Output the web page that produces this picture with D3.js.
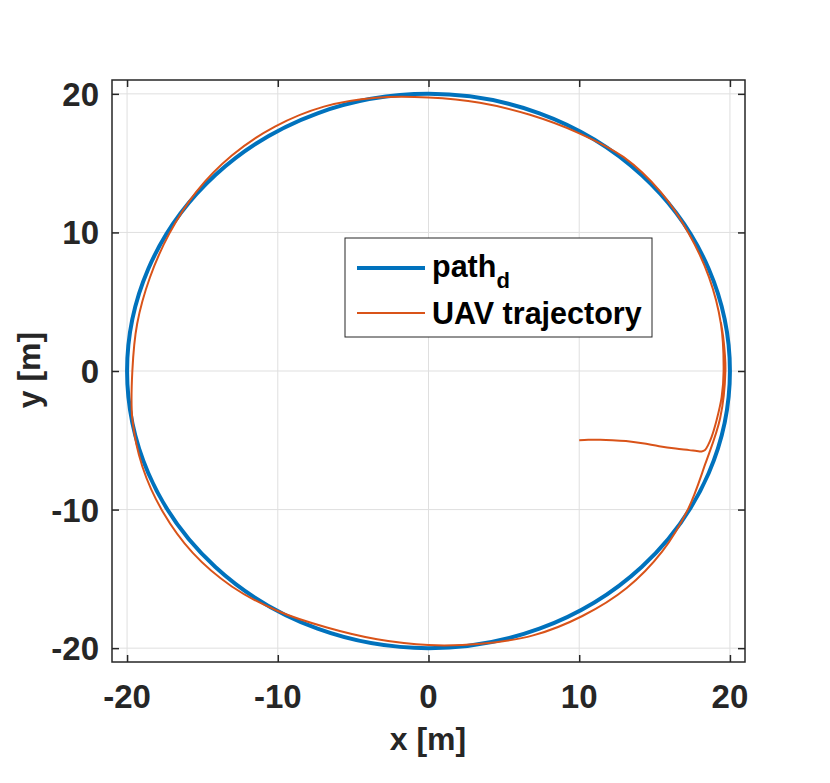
<!DOCTYPE html>
<html>
<head>
<meta charset="utf-8">
<script src="https://cdn.jsdelivr.net/npm/d3@7/dist/d3.min.js"></script>
<style>
  html, body { margin: 0; padding: 0; background: #fff; }
  svg { display: block; }
  text { font-family: "Liberation Sans", Arial, sans-serif; font-weight: bold; }
</style>
</head>
<body>
<svg id="chart" width="830" height="783"></svg>
<script>
// ---- data ----
const xTicks = [-20, -10, 0, 10, 20];
const yTicks = [-20, -10, 0, 10, 20];
const xDomain = [-21, 21];
const yDomain = [-21, 21];
// desired path: circle
const pathCenter = [0, 0];
const pathRadius = 20;
// UAV trajectory (x, y) in metres
const trajX = [10, 10.6, 11.4, 12.2, 13.1, 14.2, 15.3, 16.4, 17.3, 17.8, 18.12, 18.35, 18.55, 18.78, 19.11, 19.45, 19.58, 19.40, 18.61, 17.25, 15.40, 12.95, 9.93, 6.73, 3.41, 0, -3.48, -6.94, -10.19, -13.05, -15.41, -17.19, -18.49, -19.33, -19.65, -19.65, -18.98, -17.62, -15.64, -13.05, -10.0, -6.74, -3.41, 0, 3.47, 6.94, 10.21, 13.15, 15.51, 17.23, 18.37, 19.35, 19.70, 19.58, 19.40];
const trajY = [-5.0, -4.97, -4.96, -4.99, -5.06, -5.22, -5.43, -5.6, -5.71, -5.78, -5.81, -5.7, -5.35, -4.77, -3.57, -1.89, 0, 3.42, 6.77, 9.96, 12.92, 15.43, 17.19, 18.49, 19.36, 19.74, 19.72, 19.08, 17.64, 15.55, 12.93, 9.93, 6.73, 3.41, 0, -3.46, -6.91, -10.18, -13.13, -15.55, -17.32, -18.51, -19.36, -19.78, -19.68, -19.08, -17.68, -15.66, -13.02, -9.95, -6.69, -3.41, 0, 2.2, 3.5];
const legendLabels = ["path", "UAV trajectory"];
const legendSub = "d";

// ---- styles ----
const blue = "#0072BD";
const orange = "#D95319";
const axisColor = "#262626";
const gridColor = "#dfdfdf";

const svg = d3.select("#chart");
const x = d3.scaleLinear().domain(xDomain).range([112, 745]);
const y = d3.scaleLinear().domain(yDomain).range([662, 80]);

// grid
svg.append("g").selectAll("line").data(xTicks).join("line")
  .attr("x1", d => x(d)).attr("x2", d => x(d))
  .attr("y1", y(yDomain[0])).attr("y2", y(yDomain[1]))
  .attr("stroke", gridColor).attr("stroke-width", 1);
svg.append("g").selectAll("line").data(yTicks).join("line")
  .attr("y1", d => y(d)).attr("y2", d => y(d))
  .attr("x1", x(xDomain[0])).attr("x2", x(xDomain[1]))
  .attr("stroke", gridColor).attr("stroke-width", 1);

// desired circle path
svg.append("ellipse")
  .attr("cx", x(pathCenter[0])).attr("cy", y(pathCenter[1]))
  .attr("rx", x(pathCenter[0] + pathRadius) - x(pathCenter[0]))
  .attr("ry", y(pathCenter[1]) - y(pathCenter[1] + pathRadius))
  .attr("fill", "none").attr("stroke", blue).attr("stroke-width", 4);

// trajectory
const traj = trajX.map((v, i) => [v, trajY[i]]);
const line = d3.line().x(d => x(d[0])).y(d => y(d[1])).curve(d3.curveCatmullRom.alpha(0.5));
svg.append("path").datum(traj)
  .attr("d", line).attr("fill", "none")
  .attr("stroke", orange).attr("stroke-width", 2).attr("stroke-linejoin", "round");

// box
svg.append("rect")
  .attr("x", x(xDomain[0])).attr("y", y(yDomain[1]))
  .attr("width", x(xDomain[1]) - x(xDomain[0]))
  .attr("height", y(yDomain[0]) - y(yDomain[1]))
  .attr("fill", "none").attr("stroke", axisColor).attr("stroke-width", 1.5);

// inward ticks via d3 axes
const tl = 7;
const axB = svg.append("g").attr("transform", `translate(0,${y(yDomain[0])})`)
  .call(d3.axisTop(x).tickValues(xTicks).tickSize(tl).tickFormat(""));
const axT = svg.append("g").attr("transform", `translate(0,${y(yDomain[1])})`)
  .call(d3.axisBottom(x).tickValues(xTicks).tickSize(tl).tickFormat(""));
const axL = svg.append("g").attr("transform", `translate(${x(xDomain[0])},0)`)
  .call(d3.axisRight(y).tickValues(yTicks).tickSize(tl).tickFormat(""));
const axR = svg.append("g").attr("transform", `translate(${x(xDomain[1])},0)`)
  .call(d3.axisLeft(y).tickValues(yTicks).tickSize(tl).tickFormat(""));
[axB, axT, axL, axR].forEach(g => {
  g.select(".domain").remove();
  g.selectAll(".tick line").attr("stroke", axisColor).attr("stroke-width", 1.5);
});

// tick labels
svg.append("g").selectAll("text").data(xTicks).join("text")
  .attr("x", d => x(d)).attr("y", 708)
  .attr("text-anchor", "middle").attr("font-size", 33).attr("fill", axisColor)
  .text(d => d);
svg.append("g").selectAll("text").data(yTicks).join("text")
  .attr("x", 99).attr("y", d => y(d) + 12)
  .attr("text-anchor", "end").attr("font-size", 33).attr("fill", axisColor)
  .text(d => d);

// axis labels
svg.append("text").attr("x", 428).attr("y", 750)
  .attr("text-anchor", "middle").attr("font-size", 32).attr("fill", axisColor)
  .text("x [m]");
svg.append("text").attr("transform", "translate(40,370) rotate(-90)")
  .attr("text-anchor", "middle").attr("font-size", 32).attr("fill", axisColor)
  .text("y [m]");

// legend
const lg = svg.append("g");
lg.append("rect").attr("x", 345).attr("y", 238).attr("width", 307).attr("height", 99)
  .attr("fill", "#fff").attr("stroke", axisColor).attr("stroke-width", 1);
lg.append("line").attr("x1", 357).attr("x2", 425).attr("y1", 268).attr("y2", 268)
  .attr("stroke", blue).attr("stroke-width", 4);
lg.append("line").attr("x1", 357).attr("x2", 425).attr("y1", 313).attr("y2", 313)
  .attr("stroke", orange).attr("stroke-width", 2);
const t1 = lg.append("text").attr("x", 432).attr("y", 277).attr("font-size", 30.5).attr("fill", "#000");
t1.append("tspan").text(legendLabels[0]);
t1.append("tspan").attr("dy", 11).attr("font-size", 22).text(legendSub);
lg.append("text").attr("x", 432).attr("y", 324).attr("font-size", 30.5).attr("fill", "#000")
  .text(legendLabels[1]);
</script>
</body>
</html>
